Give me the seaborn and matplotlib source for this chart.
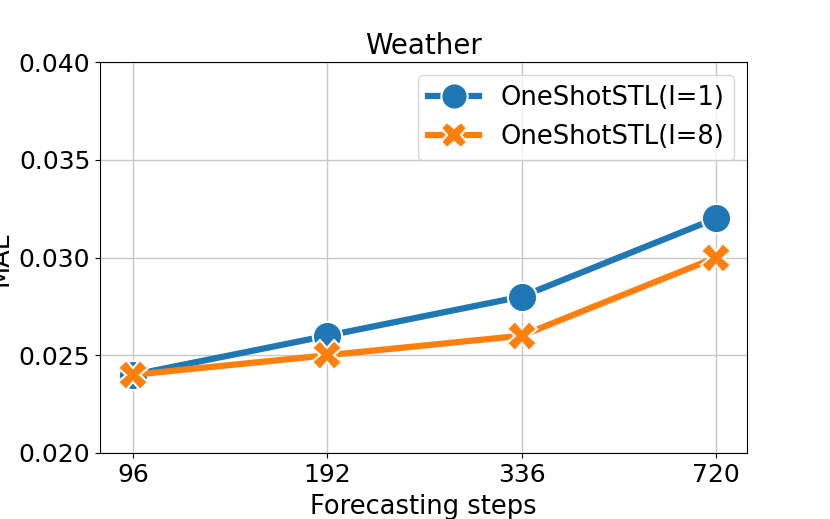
import matplotlib
matplotlib.use("Agg")
import matplotlib.pyplot as plt
import seaborn as sns
import pandas as pd

steps = ["96", "192", "336", "720"]
series_names = ["OneShotSTL(I=1)", "OneShotSTL(I=8)"]
mae_i1 = [0.024, 0.026, 0.028, 0.032]
mae_i8 = [0.024, 0.025, 0.026, 0.030]

df = pd.DataFrame({
    "step": steps * 2,
    "mae": mae_i1 + mae_i8,
    "method": [series_names[0]] * 4 + [series_names[1]] * 4,
})

plt.rcParams["font.family"] = ["DejaVu Sans"]
fig = plt.figure(figsize=(8.3, 5.19), dpi=100)
ax = fig.add_axes([100/830, 1-453/519, (747-100)/830, (453-62)/519])

sns.lineplot(data=df, x="step", y="mae", hue="method", style="method",
             markers=["o", "X"], dashes=False, linewidth=4.5, markersize=21,
             palette=["#1f77b4", "#ff7f0e"], markeredgecolor="white",
             markeredgewidth=1.5, ax=ax, sort=False)

ax.set_ylim(0.020, 0.040)
ax.set_yticks([0.020, 0.025, 0.030, 0.035, 0.040])
ax.set_yticklabels(["0.020", "0.025", "0.030", "0.035", "0.040"])
ax.set_xlim(-0.17, 3.16)
ax.grid(True, color="#c8c8c8", linewidth=1)
ax.set_axisbelow(True)
ax.tick_params(labelsize=18)
ax.set_title("Weather", fontsize=20)
ax.set_xlabel("Forecasting steps", fontsize=18.5, labelpad=5)
ax.set_ylabel("MAE", fontsize=18.5, labelpad=4)
leg = ax.legend(fontsize=18.5, loc="upper right", markerscale=0.9)
fig.savefig("out.png", dpi=100)
